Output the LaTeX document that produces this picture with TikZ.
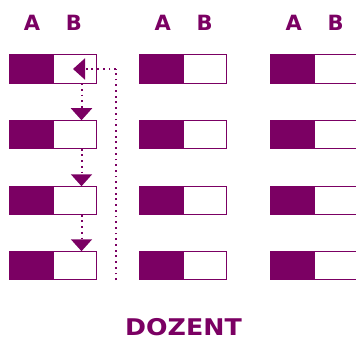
\documentclass[tikz,border=0pt]{standalone}
\usepackage{fontspec}
\setmainfont{DejaVu Sans}
\usetikzlibrary{arrows.meta}
\definecolor{plum}{HTML}{7B0063}
\begin{document}
\begin{tikzpicture}[x=1pt,y=-1pt,
  fillpart/.style={draw=plum,fill=plum,line width=0.8pt,minimum width=44pt,minimum height=28.5pt,inner sep=0pt,outer sep=0pt,anchor=west},
  whitepart/.style={draw=plum,fill=white,line width=0.8pt,minimum width=43pt,minimum height=28.5pt,inner sep=0pt,outer sep=0pt,anchor=west},
  colhead/.style={text=plum,font=\bfseries\fontsize{21}{21}\selectfont,inner sep=0pt},
  title/.style={text=plum,font=\bfseries\fontsize{23}{23}\selectfont,inner sep=0pt},
  dotline/.style={draw=plum,line width=2pt,dash pattern=on 1.8pt off 3.9pt},
  tip/.style={-{Triangle[width=21pt,length=12pt]},plum}
]
\useasboundingbox (0,0) rectangle (356,342);
% column headings
\foreach \c/\x in {1/9,2/139.7,3/270.7}{
  \node[colhead] (A\c) at (\x+23,22.5) {A};
  \node[colhead] (B\c) at (\x+65,22.5) {B};
}
% boxes
\foreach \c/\x in {1/9,2/139.7,3/270.7}{
  \foreach \r/\y in {1/69,2/134.5,3/200.5,4/265.5}{
    \node[fillpart] (f\c\r) at (\x,\y) {};
    \node[whitepart] (w\c\r) at (f\c\r.east) {};
  }
}
% connectors
\coordinate (top) at (116,69);
\coordinate (bot) at (116,280);
\draw[dotline] (bot) -- (top);
\draw[dotline,tip] (top) -- (w11.center -| 73,0);
\foreach \a/\b in {1/2,2/3,3/4}{
  \draw[dotline,tip] (w1\a.south -| 81.5,0) -- (w1\b.north -| 81.5,0);
}
\node[title] (dozent) at (183.5,327) {\scalebox{1.1}[1]{DOZENT}};
\end{tikzpicture}
\end{document}
